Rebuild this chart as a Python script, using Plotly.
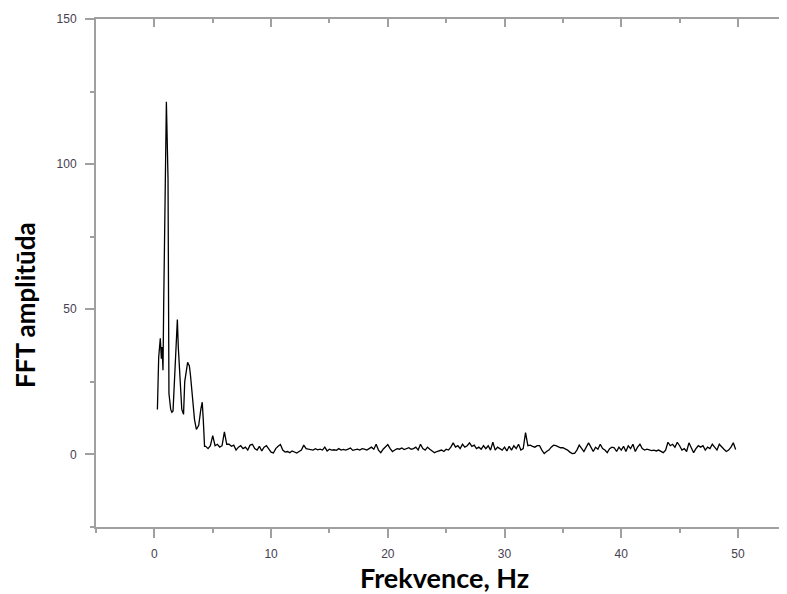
import numpy as np
import plotly.graph_objects as go

# Low-frequency part (read point by point)
freq_low = [0.26, 0.30, 0.37, 0.51, 0.60, 0.66, 0.74, 0.80, 0.91, 1.03, 1.17, 1.25,
            1.40, 1.50, 1.60, 1.75, 1.90, 1.97, 2.05, 2.20, 2.35, 2.50, 2.60, 2.85,
            3.00, 3.10, 3.30, 3.44, 3.60, 3.80, 3.98, 4.10, 4.19, 4.30]
amp_low = [15.5, 19.6, 33.4, 40, 33, 37, 29, 52, 98, 121.5, 95, 21,
           15.5, 14.5, 15, 27, 40, 46.5, 37, 27, 15.5, 13.8, 25, 31.7,
           30.5, 27, 18, 12, 8.6, 10, 15.5, 18, 12, 2.8]

# Noise floor, 0.2 Hz bins starting at 4.4 Hz
amp_high = [
    2.8, 2.0, 3.0, 6.5, 3.0, 3.5, 2.5, 3.0, 7.8, 3.5,
    3.5, 2.8, 3.2, 1.5, 2.5, 3.0, 2.0, 2.5, 1.5, 3.2,
    3.5, 2.0, 1.5, 2.8, 1.2, 2.5, 3.0, 1.8, 0.8, 0.5,
    2.0, 2.8, 3.4, 1.5, 0.8, 1.0, 0.6, 1.2, 0.8, 0.5,
    1.0, 1.5, 3.2, 2.0, 1.8, 1.7, 1.5, 2.0, 1.6, 1.8,
    1.5, 2.5, 1.2, 1.8, 1.5, 1.6, 1.4, 2.0, 1.5, 1.7,
    1.5, 1.8, 2.2, 1.4, 1.6, 1.8, 1.5, 2.0, 1.8, 1.5,
    2.0, 2.5, 1.8, 3.5, 1.5, 0.6, 1.8, 2.5, 3.4, 2.0,
    1.0, 1.5, 2.0, 1.8, 2.2, 1.7, 2.0, 2.3, 1.8, 2.0,
    2.5, 1.5, 3.5, 2.0, 1.5, 2.5, 1.8, 1.2, 0.6, 1.0,
    1.2, 1.5, 1.0, 1.8, 1.5, 2.5, 4.0, 2.5, 3.0, 2.0,
    3.5, 2.5, 3.0, 4.0, 2.8, 3.2, 2.0, 2.5, 1.8, 3.0,
    2.0, 3.0, 1.5, 4.2, 1.5, 2.5, 2.0, 1.5, 2.5, 1.2,
    2.8, 1.5, 3.0, 2.0, 3.5, 1.5, 2.0, 7.5, 3.0, 3.2,
    2.8, 2.5, 3.0, 3.0, 1.5, 0.3, 1.0, 1.5, 2.5, 3.2,
    3.0, 2.5, 2.3, 2.3, 2.0, 1.5, 0.8, 0.3, 0.4, 1.5,
    3.2, 2.0, 1.0, 2.5, 4.0, 2.5, 1.0, 2.5, 1.8, 3.5,
    2.0, 1.5, 0.6, 2.0, 2.5, 2.3, 1.0, 2.5, 1.5, 2.8,
    1.0, 3.0, 2.0, 3.5, 1.0, 2.5, 3.5, 2.0, 1.5, 1.8,
    1.5, 1.3, 1.5, 1.2, 1.5, 1.0, 0.6, 1.5, 4.2, 3.0,
    3.5, 2.5, 4.2, 3.0, 1.5, 2.0, 1.0, 4.0, 2.5, 0.6,
    2.0, 3.0, 2.5, 3.0, 1.5, 2.5, 2.0, 3.5, 2.5, 1.5,
    3.5, 2.5, 1.8, 1.0, 1.5, 2.5, 4.0, 1.7,
]
freq_high = list(np.round(4.4 + 0.2 * np.arange(len(amp_high)), 2))

freq = freq_low + freq_high
amp = amp_low + amp_high

x_ticks = [0, 10, 20, 30, 40, 50]
y_ticks = [0, 50, 100, 150]

axis_col = "#a0a0a0"
tick_font = dict(family="Liberation Sans, Arial, sans-serif", size=12, color="#46404f")

fig = go.Figure()
fig.add_trace(go.Scatter(x=freq, y=amp, mode="lines",
                         line=dict(color="#000000", width=1.3), showlegend=False))
# invisible trace to activate top axis
fig.add_trace(go.Scatter(x=[None], y=[None], xaxis="x2", yaxis="y", showlegend=False))

fig.update_layout(
    width=779, height=586,
    margin=dict(l=88, r=0, t=11, b=67),
    paper_bgcolor="white", plot_bgcolor="white",
    xaxis=dict(range=[-5, 54.2], tickvals=x_ticks, showgrid=False, zeroline=False,
               showline=True, linecolor=axis_col, linewidth=2,
               ticks="outside", ticklen=9, tickwidth=1.5, tickcolor=axis_col,
               minor=dict(dtick=5, ticks="outside", ticklen=4, tickwidth=1.5, tickcolor=axis_col),
               tickfont=tick_font, ticklabelstandoff=6),
    xaxis2=dict(range=[-5, 54.2], overlaying="x", side="top", tickvals=x_ticks,
                showticklabels=False, showgrid=False, zeroline=False,
                showline=True, linecolor=axis_col, linewidth=2,
                ticks="inside", ticklen=8, tickwidth=1.5, tickcolor=axis_col,
                minor=dict(dtick=5, ticks="inside", ticklen=4, tickwidth=1.5, tickcolor=axis_col)),
    yaxis=dict(range=[-25, 150], tickvals=y_ticks, showgrid=False, zeroline=False,
               showline=True, linecolor=axis_col, linewidth=2,
               ticks="outside", ticklen=9, tickwidth=1.5, tickcolor=axis_col,
               minor=dict(dtick=25, ticks="outside", ticklen=4, tickwidth=1.5, tickcolor=axis_col),
               tickfont=tick_font, ticklabelstandoff=6),
    annotations=[
        dict(text="Frekvence, Hz", xref="paper", yref="paper", x=(444 - 96) / 691, y=(527 - 577) / 508,
             showarrow=False, xanchor="center", yanchor="middle",
             font=dict(family="Lato, Open Sans, sans-serif", size=27, color="#000000")),
        dict(text="FFT amplitūda", xref="paper", yref="paper", x=(25 - 96) / 691, y=(527 - 305) / 508,
             showarrow=False, xanchor="center", yanchor="middle", textangle=-90,
             font=dict(family="Lato, Open Sans, sans-serif", size=26, color="#000000")),
    ],
)
for a in fig.layout.annotations:
    a.font.weight = "bold"

fig.write_html("out.html")
